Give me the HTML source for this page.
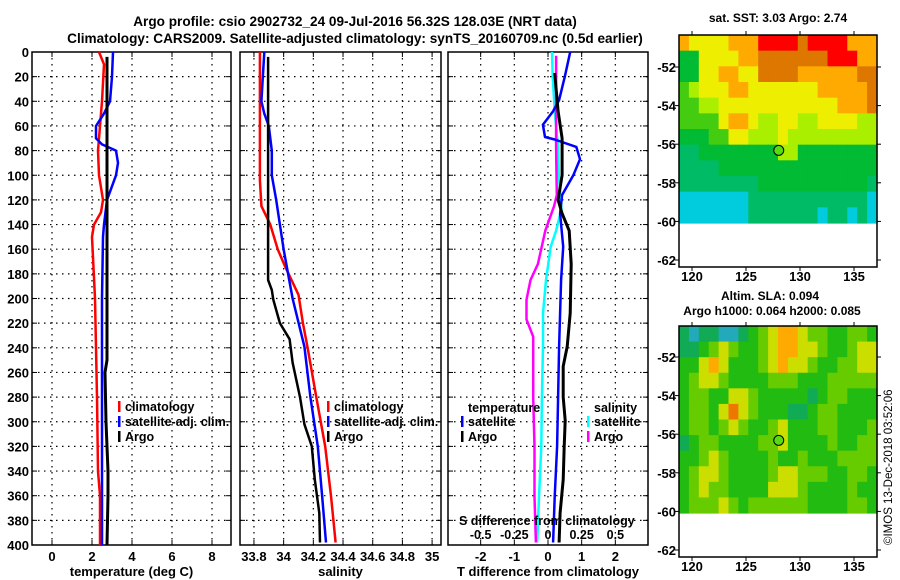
<!DOCTYPE html>
<html><head><meta charset="utf-8"><style>
html,body{margin:0;padding:0;background:#fff;}
svg{display:block;font-family:"Liberation Sans",sans-serif;font-weight:bold;}
</style></head><body>
<svg id="c" width="900" height="580" xmlns="http://www.w3.org/2000/svg">
<text x="355" y="26" font-size="13.6" text-anchor="middle">Argo profile: csio 2902732_24 09-Jul-2016 56.32S 128.03E (NRT data)</text>
<text x="355" y="43" font-size="13.6" text-anchor="middle">Climatology: CARS2009. Satellite-adjusted climatology: synTS_20160709.nc (0.5d earlier)</text>
<text x="778" y="22" font-size="12" text-anchor="middle">sat. SST: 3.03 Argo: 2.74</text>
<text x="770" y="300" font-size="12" text-anchor="middle">Altim. SLA: 0.094</text>
<text x="772" y="315" font-size="12" text-anchor="middle">Argo h1000: 0.064 h2000: 0.085</text>
<text transform="translate(892,545) rotate(-90)" font-size="11.5" font-weight="normal">©IMOS 13-Dec-2018 03:52:06</text>
</svg>
<script>
// ---- depth profile data ----
const tClimDepth=[0,10,40,60,80,100,120,130,140,150,200,240,280,340,360,400];
const tClimVal=[2.35,2.6,2.5,2.4,2.3,2.35,2.55,2.45,2.1,2.0,2.15,2.2,2.25,2.3,2.4,2.4];
const tSatDepth=[0,20,40,50,60,70,75,80,90,100,120,140,150,200,250,400];
const tSatVal=[3.05,3.0,2.9,2.6,2.2,2.2,2.5,3.2,3.3,3.2,2.75,2.6,2.55,2.5,2.5,2.5];
const tArgoDepth=[4,190,250,260,300,340,360,400];
const tArgoVal=[2.75,2.75,2.75,2.65,2.7,2.8,2.8,2.75];
const sClimDepth=[0,104,125,140,160,174,197,220,239,280,320,361,398];
const sClimVal=[33.84,33.84,33.85,33.91,33.96,34.01,34.10,34.13,34.16,34.22,34.28,34.32,34.35];
const sSatDepth=[0,40,50,60,80,100,120,140,160,180,200,239,280,320,361,398];
const sSatVal=[33.87,33.85,33.87,33.9,33.92,33.92,33.95,33.975,34.0,34.03,34.06,34.14,34.18,34.23,34.26,34.285];
const sArgoDepth=[4,185,193,201,220,233,252,280,302,320,347,374,398];
const sArgoVal=[33.895,33.895,33.92,33.93,33.975,34.04,34.06,34.11,34.14,34.19,34.21,34.24,34.245];
const dTSatDepth=[0,20,39,48,59,69,71,77,87,100,116,131,158,185,239,280,320,361,398];
const dTSatVal=[0.66,0.5,0.33,0.15,-0.15,-0.09,0.2,0.84,0.95,0.75,0.42,0.36,0.45,0.39,0.33,0.3,0.27,0.2,0.15];
const dTArgoDepth=[17,48,70,100,120,131,145,172,212,239,255,280,299,320,347,374,398];
const dTArgoVal=[0.2,0.3,0.42,0.42,0.3,0.42,0.63,0.69,0.66,0.57,0.45,0.45,0.51,0.48,0.45,0.36,0.33];
const dSSatDepth=[0,20,48,77,100,127,145,158,185,212,239,280,320,361,398];
const dSSatVal=[0.03,0.035,0.05,0.075,0.08,0.1,0.06,0.02,-0.015,-0.037,-0.037,-0.045,-0.05,-0.067,-0.08];
const dSArgoDepth=[3,77,116,125,145,172,185,201,217,231,252,280,320,361,398];
const dSArgoVal=[0.06,0.06,0.065,0.045,-0.02,-0.075,-0.13,-0.16,-0.16,-0.11,-0.11,-0.11,-0.1,-0.1,-0.09];
// ---- ticks ----
const depthTicks=[0,20,40,60,80,100,120,140,160,180,200,220,240,260,280,300,320,340,360,380,400];
const tTicks=[0,2,4,6,8];
const sTicks=[33.8,34,34.2,34.4,34.6,34.8,35];
const sTickLabels=["33.8","34","34.2","34.4","34.6","34.8","35"];
const dTTicks=[-2,-1,0,1,2];
const dSTicks=[-0.5,-0.25,0,0.25,0.5];
const dSTickLabels=["-0.5","-0.25","0","0.25","0.5"];
const latTicks=[-52,-54,-56,-58,-60,-62];
const lonTicks=[120,125,130,135];
// ---- map grids (rows north->south, cols west->east) ----
const sstGrid=[
[7,6,6,6,6,7,7,7,9,9,9,9,8,9,9,9,9,7,7,7],
[3,3,6,6,6,6,7,7,8,8,8,8,8,8,8,9,9,9,7,7],
[3,3,6,6,7,7,6,6,8,8,8,8,7,7,7,7,7,7,8,8],
[4,5,6,6,6,7,7,6,6,6,6,6,6,6,7,7,7,7,7,8],
[4,4,5,5,6,6,6,6,6,6,6,6,6,6,6,6,7,7,7,8],
[4,4,4,4,6,7,7,6,5,5,6,6,5,5,6,6,6,6,5,5],
[3,3,3,4,4,6,6,5,5,5,6,5,5,5,5,5,5,5,5,5],
[2,2,3,3,3,3,3,3,3,3,5,5,3,3,3,3,3,3,3,3],
[2,2,2,2,3,3,3,3,3,3,3,3,3,3,3,3,3,3,3,3],
[2,2,2,2,2,2,2,2,3,3,3,3,3,3,3,3,3,3,3,2],
[1,1,1,1,1,1,1,2,2,2,2,2,2,2,2,2,2,2,2,1],
[1,1,1,1,1,1,1,2,2,2,2,2,2,2,1,2,2,1,2,1]];
const slaGrid=[
[1,0,1,1,0,0,1,2,3,4,5,5,4,3,3,2,2,3,3,2],
[1,1,2,3,4,3,2,2,3,4,5,5,4,4,3,2,2,3,4,4],
[2,2,4,5,4,2,2,2,3,4,5,4,4,3,2,2,3,3,4,4],
[2,3,4,4,3,2,2,2,2,3,3,3,2,2,2,3,3,3,3,3],
[2,3,3,2,2,4,4,3,2,2,2,2,2,1,2,3,3,2,2,2],
[2,3,3,2,4,6,4,3,2,2,2,1,1,2,3,3,2,2,2,2],
[2,3,3,2,3,4,3,2,2,3,4,2,2,2,3,3,2,2,2,3],
[1,2,3,3,2,2,2,2,3,3,4,2,2,2,2,3,2,2,3,3],
[2,2,3,4,3,2,2,2,2,3,2,2,3,2,2,2,3,3,3,3],
[2,3,4,4,3,2,2,2,2,3,4,4,3,3,3,2,2,3,3,2],
[2,3,4,3,3,2,2,2,2,4,4,4,3,2,2,2,2,3,2,2],
[2,3,3,3,4,3,2,3,3,3,3,3,3,2,2,2,2,3,3,2]];
const profLon=[128.03];
const profLat=[-56.32];

const sstColors=["#0000ee","#00ccdd","#00bb66","#00bb33","#44cc11","#aaee00","#eeee00","#ffaa00","#dd7700","#ff0000"];
const slaColors=["#22aabb","#11aa55","#22bb11","#66cc00","#ccdd00","#ffaa00","#ee7700"];

const svg=document.getElementById('c');
const NS="http://www.w3.org/2000/svg";
function mk(tag,attrs,parent){const e=document.createElementNS(NS,tag);for(const k in attrs)e.setAttribute(k,attrs[k]);(parent||svg).appendChild(e);return e;}

const Y0=52,Y1=545;
const yD=d=>Y0+(Y1-Y0)*d/400;

function panel(name,x0,x1,xmin,xmax){
  const g=mk('g',{});
  
  
  return {g,x0,x1,xs:v=>x0+(x1-x0)*(v-xmin)/(xmax-xmin)};
}
function frame(p,xticks,labels,showY,xTitle){
  const {g,x0,x1,xs}=p;
  depthTicks.forEach(d=>{
    if(d>0&&d<400){const l=mk('line',{x1:x0,x2:x1,y1:yD(d),y2:yD(d),stroke:'#000','stroke-width':1.2,'stroke-dasharray':'1.5 4.5'},g);
    }
    mk('line',{x1:x0,x2:x0+5,y1:yD(d),y2:yD(d),stroke:'#000'},g);
    mk('line',{x1:x1-5,x2:x1,y1:yD(d),y2:yD(d),stroke:'#000'},g);
    if(showY){const t=mk('text',{x:x0-3,y:yD(d)+5,'font-size':13,'text-anchor':'end'},g);t.textContent=d;
      }
  });
  xticks.forEach((v,i)=>{
    const x=xs(v);
    const l=mk('line',{x1:x,x2:x,y1:Y0,y2:Y1,stroke:'#000','stroke-width':1.2,'stroke-dasharray':'1.5 4.5'},g);
    
    mk('line',{x1:x,x2:x,y1:Y0,y2:Y0+5,stroke:'#000'},g);
    mk('line',{x1:x,x2:x,y1:Y1-5,y2:Y1,stroke:'#000'},g);
    const t=mk('text',{x:x,y:Y1+16,'font-size':13,'text-anchor':'middle'},g);t.textContent=labels[i];
    
  });
  const r=mk('rect',{x:x0,y:Y0,width:x1-x0,height:Y1-Y0,fill:'none',stroke:'#000','stroke-width':1.5},g);
  
  const tt=mk('text',{x:(x0+x1)/2,y:Y1+31,'font-size':13,'text-anchor':'middle'},g);tt.textContent=xTitle;
  
}
function series(p,depths,vals,color,w,name,xsf){
  const f=xsf||p.xs;
  const pts=depths.map((d,i)=>f(vals[i]).toFixed(1)+','+yD(d).toFixed(1)).join(' ');
  const l=mk('polyline',{points:pts,fill:'none',stroke:color,'stroke-width':w,'stroke-linejoin':'round'},p.g);
  
  
}
function legend(p,x,y,color,label){
  if(color){const b=mk('rect',{x:x,y:y-10,width:2.5,height:11,fill:color},p.g);
  }
  const t=mk('text',{x:x+7,y:y,'font-size':12.5},p.g);t.textContent=label;
  
}

// Panel 1 temperature
const p1=panel('temperature-panel',32,231,-1,8.95);
frame(p1,tTicks,tTicks.map(String),true,'temperature (deg C)');
series(p1,tClimDepth,tClimVal,'#ff0000',2.5,'climatology-temperature-line');
series(p1,tSatDepth,tSatVal,'#0000ff',2.5,'satellite-temperature-line');
series(p1,tArgoDepth,tArgoVal,'#000',3,'argo-temperature-line');
legend(p1,118,411,'#ff0000','climatology');
legend(p1,118,426,'#0000ff','satellite-adj. clim.');
legend(p1,118,441,'#000','Argo');

// Panel 2 salinity
const p2=panel('salinity-panel',240,441,33.706,35.06);
frame(p2,sTicks,sTickLabels,false,'salinity');
series(p2,sClimDepth,sClimVal,'#ff0000',2.5,'climatology-salinity-line');
series(p2,sSatDepth,sSatVal,'#0000ff',2.5,'satellite-salinity-line');
series(p2,sArgoDepth,sArgoVal,'#000',2.5,'argo-salinity-line');
legend(p2,327,411,'#ff0000','climatology');
legend(p2,327,426,'#0000ff','satellite-adj. clim.');
legend(p2,327,441,'#000','Argo');

// Panel 3 differences
const p3=panel('difference-panel',448,648,-2.97,2.97);
frame(p3,dTTicks,dTTicks.map(String),false,'T difference from climatology');
const xsS=v=>p3.xs(v*4);
series(p3,dSSatDepth,dSSatVal,'#00ffff',2.5,'salinity-satellite-diff-line',xsS);
series(p3,dSArgoDepth,dSArgoVal,'#ff00ff',2.5,'salinity-argo-diff-line',xsS);
series(p3,dTSatDepth,dTSatVal,'#0000ff',2.5,'temperature-satellite-diff-line');
series(p3,dTArgoDepth,dTArgoVal,'#000',3,'temperature-argo-diff-line');
legend(p3,461,412,null,'temperature');
legend(p3,461,426,'#0000ff','satellite');
legend(p3,461,441,'#000','Argo');
legend(p3,587,412,null,'salinity');
legend(p3,587,426,'#00ffff','satellite');
legend(p3,587,441,'#ff00ff','Argo');
{const t=mk('text',{x:459,y:525,'font-size':12.5},p3.g);t.textContent='S difference from climatology';
}
dSTicks.forEach((v,i)=>{const t=mk('text',{x:xsS(v),y:539,'font-size':12.5,'text-anchor':'middle'},p3.g);t.textContent=dSTickLabels[i];
});

// Maps
function map(name,grid,colors,x0,x1,yTop,yDataBot,yBot,latA,yA,latB,yB){
  const g=mk('g',{});
  
  
  const lonX=lon=>692+(lon-120)*(854-692)/15;
  const latY=lat=>yA+(lat-latA)*(yB-yA)/(latB-latA);
  const rows=grid.length,cols=grid[0].length;
  const cw=(x1-x0)/cols,ch=(yDataBot-yTop)/rows;
  grid.forEach((row,r)=>row.forEach((v,c)=>{
    const cell=mk('rect',{x:(x0+c*cw).toFixed(2),y:(yTop+r*ch).toFixed(2),width:(cw+0.6).toFixed(2),height:(ch+0.6).toFixed(2),fill:colors[v]},g);
    
    
  }));
  const fr=mk('rect',{x:x0,y:yTop,width:x1-x0,height:yBot-yTop,fill:'none',stroke:'#000','stroke-width':1.5},g);
  
  latTicks.forEach(l=>{const y=latY(l);
    mk('line',{x1:x0-4,x2:x0,y1:y,y2:y,stroke:'#000'},g);mk('line',{x1:x1,x2:x1+4,y1:y,y2:y,stroke:'#000'},g);
    const t=mk('text',{x:x0-3,y:y+5,'font-size':13,'text-anchor':'end'},g);t.textContent=l;
    });
  lonTicks.forEach(l=>{const x=lonX(l);
    mk('line',{x1:x,x2:x,y1:yTop-4,y2:yTop,stroke:'#000'},g);mk('line',{x1:x,x2:x,y1:yBot,y2:yBot+4,stroke:'#000'},g);
    const t=mk('text',{x:x,y:yBot+14,'font-size':13,'text-anchor':'middle'},g);t.textContent=l;
    });
  const m=mk('circle',{cx:lonX(profLon[0]),cy:latY(profLat[0]),r:5,fill:'#55dd11',stroke:'#000','stroke-width':1},g);
  
}
map('sst-map',sstGrid,sstColors,679,877,35,223,267,-52,67,-62,260);
map('sla-map',slaGrid,slaColors,679,877,326,513,557,-52,357,-62,550);
</script>
</body></html>
